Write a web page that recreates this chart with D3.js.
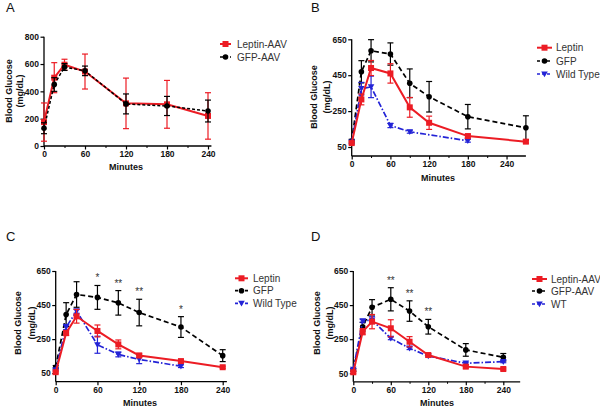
<!DOCTYPE html>
<html><head><meta charset="utf-8">
<script src="https://cdn.jsdelivr.net/npm/d3@7"></script>
<style>
body{margin:0;background:#fff}
svg{display:block}
text{font-family:"Liberation Sans",Arial,Helvetica,sans-serif}
</style>
</head><body>
<svg id="chart" width="600" height="409"></svg>
<script>
// ---------- DATA ----------
const timesA = [0, 15, 30, 60, 120, 180, 240];
const leptinA = [175, 500, 595, 545, 312, 305, 220];
const leptinAErr = [140, 110, 40, 128, 185, 175, 170];
const gfpA = [130, 450, 578, 550, 308, 293, 256];
const gfpAErr = [40, 50, 25, 35, 73, 70, 80];

const timesB = [0, 15, 30, 60, 90, 120, 180, 270];
const gfpB = [83, 469, 586, 568, 405, 330, 219, 157];
const gfpBErr = [10, 62, 62, 62, 80, 85, 68, 67];
const leptinB = [72, 315, 490, 460, 271, 185, 111, 80];
const leptinBErr = [8, 30, 42, 54, 55, 37, 10, 8];
const timesBWT = [0, 15, 30, 60, 90, 180];
const wtB = [78, 375, 385, 170, 135, 85];
const wtBErr = [8, 35, 60, 12, 8, 8];

const timesC = [0, 15, 30, 60, 90, 120, 180, 240];
const gfpC = [85, 394, 512, 495, 463, 406, 321, 153];
const gfpCErr = [10, 70, 75, 70, 72, 78, 61, 35];
const leptinC = [56, 286, 384, 298, 219, 154, 121, 85];
const leptinCErr = [5, 15, 40, 35, 26, 12, 8, 6];
const timesCWT = [0, 15, 30, 60, 90, 120, 180];
const wtC = [70, 321, 414, 217, 160, 131, 91];
const wtCErr = [5, 15, 12, 50, 14, 25, 8];
const starsCTimes = [60, 90, 120, 180];
const starsCLabels = ["*", "**", "**", "*"];

const timesD = [0, 15, 30, 60, 90, 120, 180, 240];
const gfpD = [69, 323, 437, 484, 415, 323, 187, 144];
const gfpDErr = [8, 25, 45, 68, 60, 43, 37, 22];
const leptinD = [56, 294, 353, 314, 235, 157, 89, 75];
const leptinDErr = [5, 18, 42, 50, 30, 8, 8, 6];
const wtD = [73, 358, 362, 255, 197, 151, 109, 118];
const wtDErr = [5, 8, 20, 8, 8, 6, 6, 6];
const starsDTimes = [60, 90, 120];
const starsDLabels = ["**", "**", "**"];

const xTickLabels = [0, 60, 120, 180, 240];
const xMinorTicks = [30, 90, 150, 210];
const yTicksA = [0, 200, 400, 600, 800];
const yTicksBCD = [50, 250, 450, 650];

// ---------- STYLE ----------
const RED = "#ec1c24", BLACK = "#000000", BLUE = "#2323d6";
const sRed = {color: RED, dash: null, width: 2, marker: "square"};
const sBlack = {color: BLACK, dash: "5,3", width: 1.7, marker: "circle"};
const sBlackA = {color: BLACK, dash: "3,2", width: 1.5, marker: "circle"};
const sBlue = {color: BLUE, dash: "6,2,1.5,2", width: 1.7, marker: "tri"};

const panels = [
  {label: "A", lx: 6, ly: 12, xr: [44, 208], xDom: 240, xMax: 245, yr: [146, 36.7], yMax: 800, yTicks: yTicksA, minor: true,
   series: [
     Object.assign({name: "Leptin-AAV", t: timesA, v: leptinA, e: leptinAErr}, sRed),
     Object.assign({name: "GFP-AAV", t: timesA, v: gfpA, e: gfpAErr}, sBlackA)],
   legendOrder: [0, 1], leg: {x0: 220, x1: 231, tx: 237, ys: [44, 57]},
   yt: {x1: 8.7, x2: 19.5, cy: 91}, xt: {cx: 126, y: 170}},
  {label: "B", lx: 311, ly: 12, xr: [351.7, 525.9], xDom: 270, xMax: 270, yr: [156, 39.3], yMax: 650, yTicks: yTicksBCD, minor: true,
   series: [
     Object.assign({name: "GFP", t: timesB, v: gfpB, e: gfpBErr}, sBlack),
     Object.assign({name: "Wild Type", t: timesBWT, v: wtB, e: wtBErr}, sBlue),
     Object.assign({name: "Leptin", t: timesB, v: leptinB, e: leptinBErr}, sRed)],
   legendOrder: [2, 0, 1], leg: {x0: 537, x1: 552, tx: 556, ys: [47.7, 61, 74]},
   yt: {x1: 314, x2: 327, cy: 97}, xt: {cx: 438, y: 181}},
  {label: "C", lx: 6, ly: 241, xr: [55.7, 222.7], xDom: 240, xMax: 246, yr: [381.7, 271], yMax: 650, yTicks: yTicksBCD, minor: false,
   series: [
     Object.assign({name: "GFP", t: timesC, v: gfpC, e: gfpCErr}, sBlack),
     Object.assign({name: "Wild Type", t: timesCWT, v: wtC, e: wtCErr}, sBlue),
     Object.assign({name: "Leptin", t: timesC, v: leptinC, e: leptinCErr}, sRed)],
   legendOrder: [2, 0, 1], leg: {x0: 235, x1: 248, tx: 253, ys: [278.3, 290.7, 303.3]},
   yt: {x1: 18, x2: 32, cy: 323}, xt: {cx: 140, y: 406},
   stars: {t: starsCTimes, l: starsCLabels, ref: 0}},
  {label: "D", lx: 311, ly: 241, xr: [353.3, 503.3], xDom: 240, xMax: 267, yr: [381.8, 271], yMax: 650, yTicks: yTicksBCD, minor: true,
   series: [
     Object.assign({name: "GFP-AAV", t: timesD, v: gfpD, e: gfpDErr}, sBlack),
     Object.assign({name: "WT", t: timesD, v: wtD, e: wtDErr}, sBlue),
     Object.assign({name: "Leptin-AAV", t: timesD, v: leptinD, e: leptinDErr}, sRed)],
   legendOrder: [2, 0, 1], leg: {x0: 532, x1: 547, tx: 551, ys: [279, 291, 304]},
   yt: {x1: 316.5, x2: 330, cy: 323}, xt: {cx: 437, y: 406},
   stars: {t: starsDTimes, l: starsDLabels, ref: 0}}
];

const svg = d3.select("#chart");

function drawMarker(g, type, x, y, color) {
  if (type === "square") {
    g.append("rect").attr("x", x - 3).attr("y", y - 3).attr("width", 6).attr("height", 6).attr("fill", color);
  } else if (type === "circle") {
    g.append("circle").attr("cx", x).attr("cy", y).attr("r", 2.8).attr("fill", color);
  } else {
    g.append("path").attr("d", `M${x - 3.3},${y - 2.6}L${x + 3.3},${y - 2.6}L${x},${y + 3.2}Z`).attr("fill", color);
  }
}

panels.forEach(p => {
  const g = svg.append("g");
  const x = d3.scaleLinear().domain([0, p.xDom]).range(p.xr);
  const xEnd = x(p.xMax);
  const y = d3.scaleLinear().domain([0, p.yMax]).range(p.yr);

  // panel letter
  g.append("text").attr("x", p.lx).attr("y", p.ly).attr("font-size", 13).attr("fill", "#111").text(p.label);

  // axes
  const xAxis = d3.axisBottom(x).tickValues(xTickLabels).tickSize(3.5).tickPadding(1.5).tickFormat(d3.format("d"));
  const xa = g.append("g").attr("transform", `translate(0,${p.yr[0]})`).call(xAxis);
  xa.select(".domain").attr("d", `M${p.xr[0]},0H${xEnd}`);
  if (p.minor) {
    const xm = g.append("g").attr("transform", `translate(0,${p.yr[0]})`)
      .call(d3.axisBottom(x).tickValues(xMinorTicks).tickSize(2).tickFormat(""));
    xm.select(".domain").remove();
    xm.selectAll(".tick line").attr("stroke", "#000").attr("stroke-width", 1);
  }
  const yAxis = d3.axisLeft(y).tickValues(p.yTicks).tickSize(3.5).tickPadding(1.5).tickFormat(d3.format("d"));
  const ya = g.append("g").attr("transform", `translate(${p.xr[0]},0)`).call(yAxis);
  ya.select(".domain").attr("d", `M0,${y(p.yTicks[p.yTicks.length - 1])}V${p.yr[0]}`);
  [xa, ya].forEach(a => {
    a.selectAll(".domain").attr("stroke", "#000").attr("stroke-width", 1.3);
    a.selectAll(".tick line").attr("stroke", "#000").attr("stroke-width", 1.2);
    a.selectAll(".tick text").attr("font-size", 8.5).attr("font-weight", "bold").attr("fill", "#111")
      .attr("font-family", '"Liberation Sans",Arial,sans-serif');
  });

  // axis titles
  g.append("text").attr("transform", `translate(${p.yt.x1},${p.yt.cy}) rotate(-90)`)
    .attr("text-anchor", "middle").attr("dominant-baseline", "central")
    .attr("font-size", 9).attr("font-weight", "bold").attr("fill", "#111").text("Blood Glucose");
  g.append("text").attr("transform", `translate(${p.yt.x2},${p.yt.cy}) rotate(-90)`)
    .attr("text-anchor", "middle").attr("dominant-baseline", "central")
    .attr("font-size", 9).attr("font-weight", "bold").attr("fill", "#111").text("(mg/dL)");
  g.append("text").attr("x", p.xt.cx).attr("y", p.xt.y).attr("text-anchor", "middle")
    .attr("font-size", 9).attr("font-weight", "bold").attr("fill", "#111").text("Minutes");

  // series
  p.series.forEach(s => {
    const pts = s.t.map((t, i) => ({t, v: s.v[i], e: s.e[i]}));
    const sg = g.append("g");
    pts.forEach(d => {
      const cx = x(d.t), yt = y(d.v + d.e), yb = y(Math.max(0, d.v - d.e));
      sg.append("line").attr("x1", cx).attr("x2", cx).attr("y1", yt).attr("y2", yb)
        .attr("stroke", s.color).attr("stroke-width", 1.2);
      [yt, yb].forEach(yy => sg.append("line").attr("x1", cx - 3).attr("x2", cx + 3).attr("y1", yy).attr("y2", yy)
        .attr("stroke", s.color).attr("stroke-width", 1.2));
    });
    const line = d3.line().x(d => x(d.t)).y(d => y(d.v));
    sg.append("path").attr("d", line(pts)).attr("fill", "none").attr("stroke", s.color)
      .attr("stroke-width", s.width).attr("stroke-dasharray", s.dash);
    pts.forEach(d => drawMarker(sg, s.marker, x(d.t), y(d.v), s.color));
  });

  // significance stars
  if (p.stars) {
    const ref = p.series[p.stars.ref];
    p.stars.t.forEach((t, i) => {
      const idx = ref.t.indexOf(t);
      const top = y(ref.v[idx] + ref.e[idx]);
      g.append("text").attr("x", x(t)).attr("y", top - 4).attr("text-anchor", "middle")
        .attr("font-size", 10).attr("fill", "#333").text(p.stars.l[i]);
    });
  }

  // legend
  p.legendOrder.forEach((si, k) => {
    const s = p.series[si];
    const yy = p.leg.ys[k];
    g.append("line").attr("x1", p.leg.x0).attr("x2", p.leg.x1).attr("y1", yy).attr("y2", yy)
      .attr("stroke", s.color).attr("stroke-width", s.width).attr("stroke-dasharray", s.dash ? "3,2" : null);
    drawMarker(g, s.marker, (p.leg.x0 + p.leg.x1) / 2, yy, s.color);
    g.append("text").attr("x", p.leg.tx).attr("y", yy).attr("dominant-baseline", "central")
      .attr("font-size", 10).attr("fill", "#333").text(s.name);
  });
});
</script>
</body></html>
